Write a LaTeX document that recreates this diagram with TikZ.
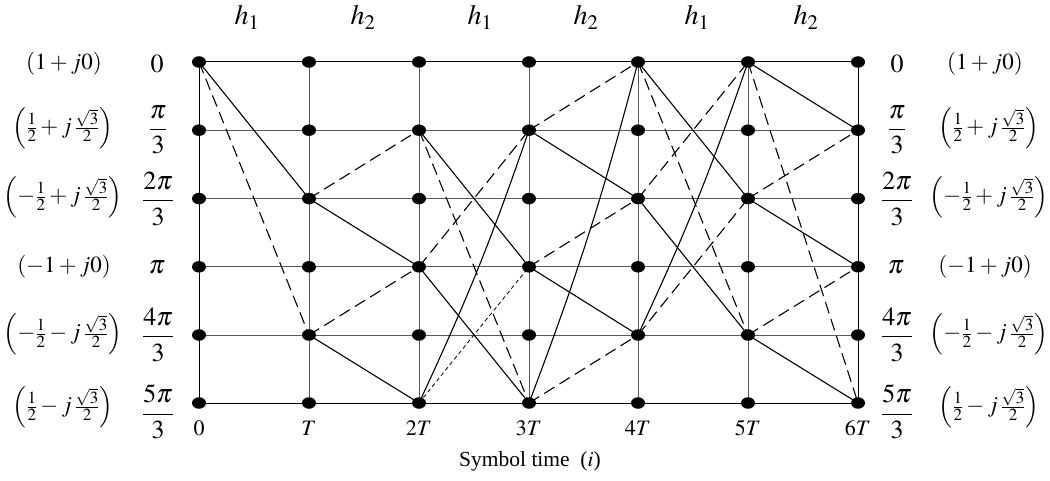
\documentclass[tikz,border=0pt]{standalone}
\usepackage{mathptmx}
\usepackage[no-math]{fontspec}
\setmainfont{Liberation Serif}
\usetikzlibrary{shapes.geometric}
\begin{document}
\begin{tikzpicture}[x=1pt,y=-1pt,
  dot/.style={ellipse,fill=black,inner sep=0pt,minimum width=14pt,minimum height=11.5pt},
  gridin/.style={draw=black!65,line width=1pt},
  gridout/.style={draw=black,line width=1pt},
  edgeline/.style={draw=black,line width=1.1pt},
  dashline/.style={edgeline,dash pattern=on 12pt off 6pt},
  finedash/.style={draw=black,line width=0.8pt,dash pattern=on 4pt off 3pt},
  cplx/.style={inner sep=0pt,font=\fontsize{23}{28}\selectfont},
  phase/.style={inner sep=0pt,font=\fontsize{26}{31}\selectfont},
  hlab/.style={inner sep=0pt,anchor=base,font=\fontsize{28}{32}\selectfont},
  ticklab/.style={inner sep=0pt,font=\fontsize{22}{26}\selectfont},
  axislab/.style={inner sep=0pt,font=\fontsize{21.5}{25}\selectfont}
]
\useasboundingbox (0,0) rectangle (1050,481);
\fill[white] (0,0) rectangle (1050,481);
\foreach \c/\x in {0/199,1/309,2/419,3/529,4/638,5/748,6/858}{
  \foreach \r/\y in {0/62,1/130.2,2/198.6,3/266.8,4/335,5/403}{
    \coordinate (p\c\r) at (\x,\y);
  }}
% grid
\foreach \r in {1,2,3,4} \draw[gridin] (p0\r) -- (p6\r);
\foreach \c in {1,2,3,4,5} \draw[gridin] (p\c0) -- (p\c5);
\draw[gridout] (p00) -- (p60) -- (p65) -- (p05) -- cycle;
% solid transitions
\foreach \a/\b in {00/12,12/23,14/25,21/33,23/35,31/42,33/44,40/52,42/54,50/61,52/63,54/65}
  \draw[edgeline] (p\a) -- (p\b);
% curved solid transitions
\foreach \a/\b in {25/31,35/40,44/50}
  \draw[edgeline] (p\a) to[bend right=3] (p\b);
% dashed transitions
\foreach \a/\b in {00/14,12/21,14/23,21/35,23/31,31/40,33/42,35/44,40/54,42/50,44/52,50/65,52/61,54/63}
  \draw[dashline] (p\a) -- (p\b);
\draw[finedash] (p25) -- (p33);
% dots
\foreach \c in {0,...,6}{
  \foreach \r in {0,...,5}{
    \node[dot] (d\c\r) at (p\c\r) {};
  }}
% top labels
\node[hlab] (h1a) at (247,25) {$h_1$};
\node[hlab] (h2a) at (363,25) {$h_2$};
\node[hlab] (h1b) at (480,25) {$h_1$};
\node[hlab] (h2b) at (586,25) {$h_2$};
\node[hlab] (h1c) at (697,25) {$h_1$};
\node[hlab] (h2c) at (806,25) {$h_2$};
% left labels
\node[cplx] (lc0) at (64,64) {$(1+j0)$};
\node[cplx] (lc1) at (63,128) {$\left(\frac{1}{2}+j\,\frac{\sqrt{3}}{2}\right)$};
\node[cplx] (lc2) at (63,197) {$\left(-\frac{1}{2}+j\,\frac{\sqrt{3}}{2}\right)$};
\node[cplx] (lc3) at (64,267) {$(-1+j0)$};
\node[cplx] (lc4) at (63,334) {$\left(-\frac{1}{2}-j\,\frac{\sqrt{3}}{2}\right)$};
\node[cplx] (lc5) at (63,407) {$\left(\frac{1}{2}-j\,\frac{\sqrt{3}}{2}\right)$};
\node[phase] (lp0) at (157,64) {$0$};
\node[phase] (lp1) at (158,130) {$\displaystyle\frac{\pi}{3}$};
\node[phase] (lp2) at (158,199) {$\displaystyle\frac{2\pi}{3}$};
\node[phase] (lp3) at (157,267) {$\pi$};
\node[phase] (lp4) at (158,335) {$\displaystyle\frac{4\pi}{3}$};
\node[phase] (lp5) at (158,412) {$\displaystyle\frac{5\pi}{3}$};
% right labels
\node[phase] (rp0) at (897,64) {$0$};
\node[phase] (rp1) at (897,130) {$\displaystyle\frac{\pi}{3}$};
\node[phase] (rp2) at (897,199) {$\displaystyle\frac{2\pi}{3}$};
\node[phase] (rp3) at (896,267) {$\pi$};
\node[phase] (rp4) at (897,335) {$\displaystyle\frac{4\pi}{3}$};
\node[phase] (rp5) at (897,412) {$\displaystyle\frac{5\pi}{3}$};
\node[cplx] (rc0) at (985,64) {$(1+j0)$};
\node[cplx] (rc1) at (989,128) {$\left(\frac{1}{2}+j\,\frac{\sqrt{3}}{2}\right)$};
\node[cplx] (rc2) at (989,197) {$\left(-\frac{1}{2}+j\,\frac{\sqrt{3}}{2}\right)$};
\node[cplx] (rc3) at (985,267) {$(-1+j0)$};
\node[cplx] (rc4) at (989,334) {$\left(-\frac{1}{2}-j\,\frac{\sqrt{3}}{2}\right)$};
\node[cplx] (rc5) at (989,407) {$\left(\frac{1}{2}-j\,\frac{\sqrt{3}}{2}\right)$};
% time ticks
\node[ticklab] (t0) at (199,428) {$0$};
\node[ticklab] (t1) at (309,428) {$T$};
\node[ticklab] (t2) at (419,428) {$2T$};
\node[ticklab] (t3) at (529,428) {$3T$};
\node[ticklab] (t4) at (638,428) {$4T$};
\node[ticklab] (t5) at (748,428) {$5T$};
\node[ticklab] (t6) at (858,428) {$6T$};
\node[axislab] (ax) at (530,461) {Symbol time\ \ ($i$)};
\end{tikzpicture}
\end{document}
